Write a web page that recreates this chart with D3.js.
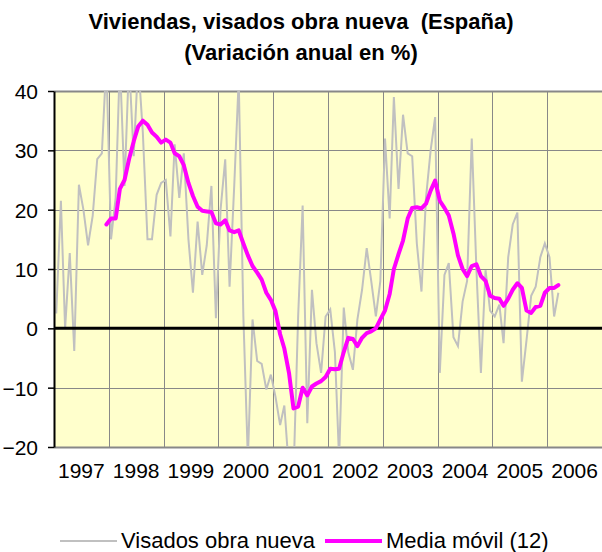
<!DOCTYPE html>
<html>
<head>
    <meta charset="utf-8">
    <title>Viviendas, visados obra nueva</title>
    <script src="https://d3js.org/d3.v7.min.js"></script>
    <style>
        body { margin: 0; background: #fff; }
        svg { display: block; font-family: "Liberation Sans", Arial, sans-serif; }
    </style>
</head>
<body>
<svg id="chart" width="602" height="552"></svg>
<script>
    // eje X: años
    var years = ["1997", "1998", "1999", "2000", "2001", "2002", "2003", "2004", "2005", "2006"];
    var yTicks = [-20, -10, 0, 10, 20, 30, 40];

    // serie mensual desde ene-1997 (variación anual en %)
    var visados = [
        2.5, 21.5, 0, 12.7, -3.8, 24.2, 20, 14, 19, 28.5, 29.5, 45,
        15, 22, 45, 24, 45, 29, 45, 33, 15, 15, 22.5, 24.5,
        25, 15.5, 31, 22, 29.5, 15, 6, 18, 9, 14, 24, 1.7,
        20, 28.5, 7, 24, 42, 2, -22, 1.5, -5.5, -6, -10.3, -7.8,
        -11.5, -16.3, -13, -24, -25, 2, 20.7, -16, 6.5, -2.5, -7.5, 2,
        3.2, -4, -22, 3.5, -4, -7, 1.5, 6.5, 13.5, 8, 2, 8,
        32, 18.5, 39, 23.5, 36, 29.5, 29, 14.3, 6.2, 22, 30, 35.6,
        -7.5, 9, 11, -1.5, -3, 4.5, 8, 32, 10, -7.5, 9.8, 3,
        2, 4, -2.5, 12, 17.5, 19.5, -9, -2, 5.5, 7, 12, 14.3,
        12, 2, 6
    ];

    // media móvil (12), empieza en dic-1997 (mes 11)
    var mediaStart = 11;
    var mediaMovil = [
        17.5,
        18.5, 18.5, 23.5, 25, 28.5, 31.5, 34, 35, 34.3, 33, 32.3, 31.3,
        31.8, 31.3, 29.5, 29, 27.5, 24.5, 22.3, 20.5, 19.8, 19.7, 19.6, 17.7,
        17.5, 18.2, 16.5, 16.2, 16.5, 14.3, 12.3, 10.5, 9.4, 8.2, 6, 4.8,
        2.9, -1, -3.4, -7.5, -13.5, -13.2, -10, -11.3, -9.8, -9.3, -8.9, -8.2,
        -6.8, -6.9, -6.8, -4, -1.6, -1.8, -3, -1.6, -0.8, -0.5, 0, 1.5,
        3, 5.8, 10, 12.5, 14.8, 18.5, 20.3, 20.4, 20.2, 21, 23.2, 24.9,
        21.5, 20.3, 19, 16, 12.3, 10, 8.8, 10.5, 10.8, 8.8, 8, 5.5,
        5.1, 5, 3.8, 5, 6.5, 7.6, 6.8, 3, 2.6, 3.6, 3.8, 6,
        6.8, 6.8, 7.3
    ];

    var svg = d3.select("#chart");

    var plotL = 54, plotR = 602, plotT = 91, plotB = 447;
    var fontSize = "21px";

    var x = d3.scaleTime()
        .domain([new Date(1997, 0, 1), new Date(2007, 0, 1)])
        .range([plotL, plotR]);

    var y = d3.scaleLinear()
        .domain([-20, 40])
        .range([plotB, plotT]);

    function monthDate(i) {
        return new Date(1997, i, 16);
    }

    // fondo
    svg.append("rect")
        .attr("x", plotL).attr("y", plotT)
        .attr("width", plotR - plotL).attr("height", plotB - plotT)
        .style("fill", "#ffffcc");

    svg.append("clipPath").attr("id", "clip")
        .append("rect")
        .attr("x", plotL).attr("y", plotT)
        .attr("width", plotR - plotL).attr("height", plotB - plotT);

    // rejilla horizontal
    svg.append("g")
        .selectAll("line")
        .data(yTicks.filter(function(d) { return d !== 0; }))
        .enter().append("line")
        .attr("x1", plotL).attr("x2", plotR)
        .attr("y1", function(d) { return Math.round(y(d)) + 0.5; })
        .attr("y2", function(d) { return Math.round(y(d)) + 0.5; })
        .style("stroke", "#888")
        .style("stroke-width", function(d) { return (d === 40 || d === -20) ? 2 : 1; });

    // rejilla vertical (inicio de cada año)
    svg.append("g")
        .selectAll("line")
        .data(years.slice(1).concat(["2007"]))
        .enter().append("line")
        .attr("x1", function(d) { return Math.round(x(new Date(+d, 0, 1))) + 0.5; })
        .attr("x2", function(d) { return Math.round(x(new Date(+d, 0, 1))) + 0.5; })
        .attr("y1", plotT).attr("y2", plotB)
        .style("stroke", "#888")
        .style("stroke-width", 1);

    // línea gris (visados)
    var line = d3.line()
        .x(function(d, i) { return x(monthDate(i)); })
        .y(function(d) { return y(d); });

    svg.append("path")
        .datum(visados)
        .attr("clip-path", "url(#clip)")
        .attr("d", line)
        .style("fill", "none")
        .style("stroke", "#c0c0c0")
        .style("stroke-width", 2);

    // línea cero
    svg.append("line")
        .attr("x1", plotL).attr("x2", plotR)
        .attr("y1", y(0)).attr("y2", y(0))
        .style("stroke", "#000")
        .style("stroke-width", 3);

    // media móvil
    var lineMedia = d3.line()
        .x(function(d, i) { return x(monthDate(i + mediaStart)); })
        .y(function(d) { return y(d); });

    svg.append("path")
        .datum(mediaMovil)
        .attr("d", lineMedia)
        .style("fill", "none")
        .style("stroke", "#ff00ff")
        .style("stroke-width", 4)
        .style("stroke-linejoin", "round")
        .style("stroke-linecap", "round");

    // eje Y
    var yAxis = d3.axisLeft(y)
        .tickValues(yTicks)
        .tickSize(6)
        .tickSizeOuter(0)
        .tickPadding(10)
        .tickFormat(d3.format("d"));

    var gy = svg.append("g")
        .attr("transform", "translate(" + plotL + ",0)")
        .call(yAxis);
    gy.select(".domain").style("stroke", "#000").style("stroke-width", 2);
    gy.selectAll(".tick line").style("stroke", "#000").style("stroke-width", 1.5);
    gy.selectAll("text")
        .style("font-size", fontSize)
        .style("fill", "#000")
        .style("font-family", "Liberation Sans, Arial, sans-serif")
        .attr("dy", "0.35em");

    // etiquetas de años
    svg.append("g")
        .selectAll("text")
        .data(years)
        .enter().append("text")
        .attr("x", function(d) { return (x(new Date(+d, 0, 1)) + x(new Date(+d + 1, 0, 1))) / 2; })
        .attr("y", 478)
        .attr("text-anchor", "middle")
        .style("font-size", fontSize)
        .text(function(d) { return d; });

    // título
    svg.append("text")
        .attr("x", 301).attr("y", 29)
        .attr("text-anchor", "middle")
        .style("font-size", "22px")
        .style("font-weight", "bold")
        .style("white-space", "pre")
        .text("Viviendas, visados obra nueva  (España)");

    svg.append("text")
        .attr("x", 301).attr("y", 60)
        .attr("text-anchor", "middle")
        .style("font-size", "22px")
        .style("font-weight", "bold")
        .text("(Variación anual en %)");

    // leyenda
    var legend = [
        { name: "Visados obra nueva", color: "#c0c0c0", width: 2, x: 60 },
        { name: "Media móvil (12)", color: "#ff00ff", width: 4, x: 325 }
    ];

    var lg = svg.append("g").selectAll("g")
        .data(legend)
        .enter().append("g");

    lg.append("line")
        .attr("x1", function(d) { return d.x; })
        .attr("x2", function(d) { return d.x + 57; })
        .attr("y1", 541).attr("y2", 541)
        .style("stroke", function(d) { return d.color; })
        .style("stroke-width", function(d) { return d.width; });

    lg.append("text")
        .attr("x", function(d) { return d.x + 61; })
        .attr("y", 548)
        .style("font-size", "22px")
        .text(function(d) { return d.name; });
</script>
</body>
</html>
